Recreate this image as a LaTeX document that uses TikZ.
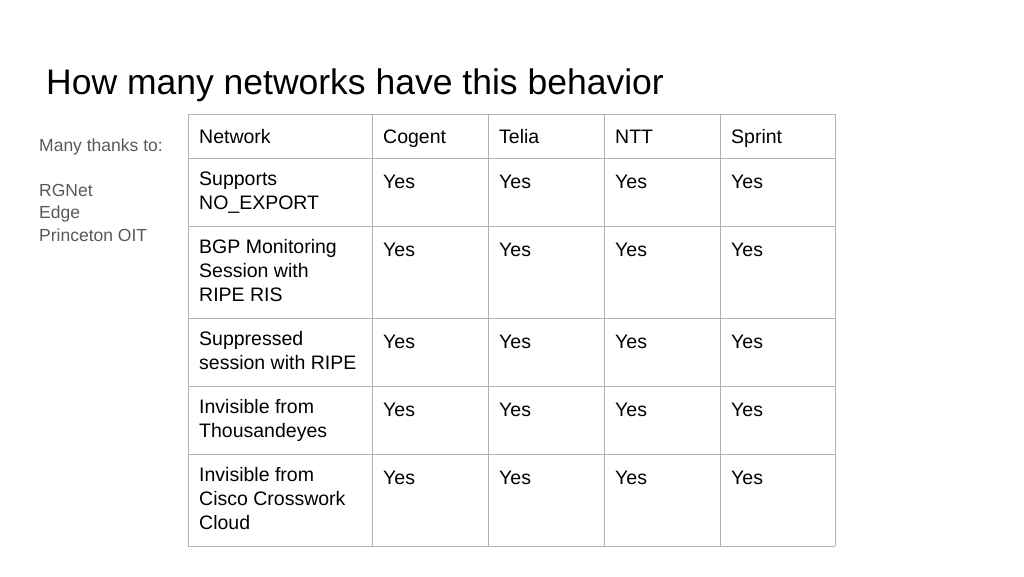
\documentclass[tikz,border=0pt]{standalone}
\usepackage{fontspec}
\setmainfont{Liberation Sans}
\begin{document}
\begin{tikzpicture}[x=1pt,y=-1pt,
  cell/.style={anchor=north west,align=left,inner sep=0pt,font=\fontsize{19.5}{24}\selectfont,execute at begin node=\strut},
  side/.style={anchor=north west,align=left,inner sep=0pt,text=black!65,font=\fontsize{17.5}{22.5}\selectfont,execute at begin node=\strut},
  grid/.style={draw=black!30,line width=0.8pt}]
\useasboundingbox (0,0) rectangle (1024,576);
\node[anchor=base west,inner sep=0pt,font=\fontsize{35.5}{40}\selectfont] (title) at (46,94) {How many networks have this behavior};
\node[side] (thanks) at (39,138.25) {Many thanks to:\\[22.5pt]RGNet\\Edge\\Princeton OIT};
\def\xs{188,372,488,604,720,835}
\def\ys{114,158,226,318,386,454,546}
\foreach \x in \xs {\draw[grid] (\x,114) -- (\x,546);}
\foreach \y in \ys {\draw[grid] (188,\y) -- (835,\y);}
\foreach \t [count=\i] in {Network,Cogent,Telia,NTT,Sprint}{
  \pgfmathsetmacro{\cx}{{188,372,488,604,720}[\i-1]+11}
  \node[cell] (h\i) at (\cx,126.2) {\t};}
\foreach \t [count=\r] in {{Supports\\NO\_EXPORT},{BGP Monitoring\\Session with\\RIPE RIS},{Suppressed\\session with RIPE},{Invisible from\\Thousandeyes},{Invisible from\\Cisco Crosswork\\Cloud}}{
  \pgfmathsetmacro{\cy}{{158,226,318,386,454}[\r-1]+13.2}
  \node[cell] (r\r) at (199,\cy) {\t};
  \foreach \cx [count=\c] in {383,499,615,731}{
    \node[cell] (y\r\c) at (\cx,\cy) {Yes};}}
\end{tikzpicture}
\end{document}
